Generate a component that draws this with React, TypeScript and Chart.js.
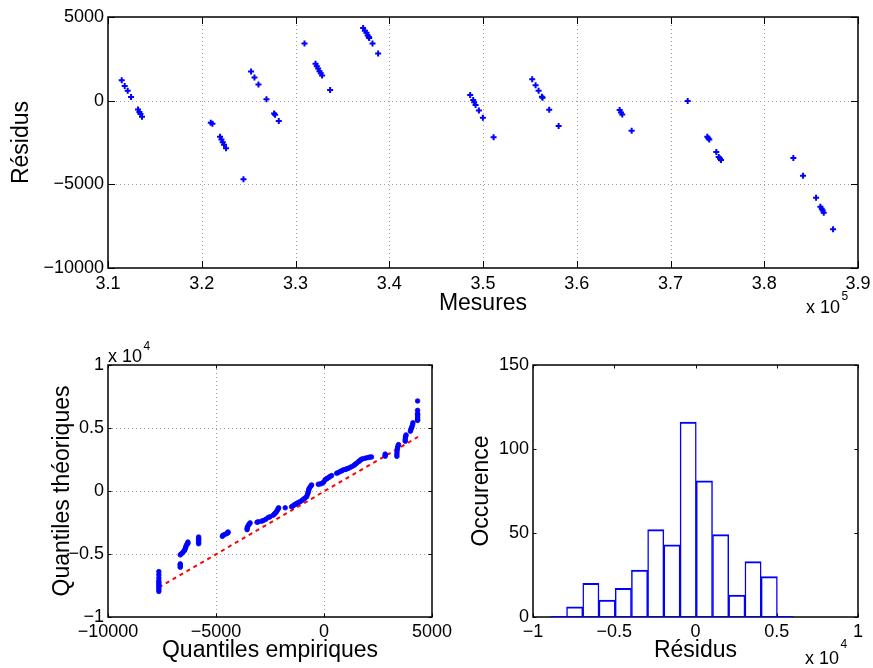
import React, { useEffect, useRef } from 'react';
import { Chart, registerables } from 'chart.js';
Chart.register(...registerables);

const FONT = "'Liberation Sans', Arial, Helvetica, sans-serif";
const BLUE = '#0000ff';
const RED = '#ff0000';

// ---------- Top plot: residuals vs measures ----------
const mesures = [
  311462, 311782, 312102, 312458, 313200, 313350, 313458, 313628,
  320960, 321140, 321953, 322102, 322241, 322380, 322593, 324450,
  325261, 325624, 326050, 326904, 327716, 327822, 328217,
  330960, 332134, 332272, 332411, 332560, 332699, 332838, 333692,
  337214, 337395, 337577, 337700, 337822, 337860, 338217, 338814,
  348633, 348953, 349060, 349209, 349561, 349988, 351130,
  355249, 355612, 355932, 356284, 356359, 357063, 358067,
  364577, 364716, 364854, 365857,
  371834,
  373925, 374032, 374139, 374886, 375142, 375281, 375388,
  383104, 384139, 385526, 385985, 386134, 386241, 386347, 387341,
];
const residus = [
  1218, 882, 600, 222, -522, -678, -798, -960,
  -1320, -1380, -2161, -2323, -2479, -2641, -2839, -4700,
  1741, 1380, 960, 78, -762, -840, -1218,
  3421, 2203, 2059, 1921, 1759, 1639, 1500, 642,
  4339, 4183, 4063, 3900, 3800, 3739, 3421, 2821,
  342, 42, -102, -258, -582, -1020, -2179,
  1278, 918, 600, 240, 180, -540, -1518,
  -558, -702, -822, -1801,
  -18,
  -2161, -2239, -2323, -3061, -3361, -3463, -3541,
  -3421, -4483, -5804, -6344, -6464, -6560, -6704, -7683,
];
const topXTicks = [310000, 320000, 330000, 340000, 350000, 360000, 370000, 380000, 390000];
const topXTickLabels = ['3.1', '3.2', '3.3', '3.4', '3.5', '3.6', '3.7', '3.8', '3.9'];
const topYTicks = [-10000, -5000, 0, 5000];
const topYTickLabels = ['\u221210000', '\u22125000', '0', '5000'];

// ---------- QQ plot ----------
const qqEmpiriques = [
  -7646, -7646, -7646, -7646, -7646, -7646, -7646, -7646, -7646, -7646,
  -6655, -6655, -6655, -6655,
  -6655, -6600, -6540, -6480, -6454, -6420, -6400, -6377, -6340, -6300, -6300,
  -5804, -5804, -5804, -5804, -5804, -5804,
  -4705, -4680, -4600, -4500, -4442, -4442,
  -3560, -3560, -3540, -3500, -3460, -3420,
  -3100, -3049, -2900, -2817, -2700, -2585, -2500,
  -2353, -2300, -2250, -2200, -2160, -2120, -2100,
  -1795,
  -1501, -1450, -1390, -1330, -1269, -1190, -1114, -1030, -950, -880, -805, -770, -740, -727, -710, -690, -650, -600, -573,
  -263, -180, -100, -20, 46, 100, 150, 220, 278, 350,
  588, 650, 750, 820, 897, 1000, 1050, 1130, 1207, 1300, 1400, 1450, 1517, 1600, 1650, 1700, 1749, 1850, 1950, 2050, 2136, 2200,
  2832, 2832, 2832,
  3374, 3374, 3380, 3390, 3400, 3420, 3450,
  3761, 3761, 3770, 3780, 3800,
  4000, 4024, 4050, 4070, 4100, 4117,
  4333, 4333, 4333, 4333, 4333, 4333, 4333, 4333,
];
const qqTheoriques = [
  -7973, -7800, -7650, -7500, -7387, -7250, -7120, -6900, -6650, -6400,
  -6053, -5950, -5850, -5787,
  -5067, -4980, -4880, -4760, -4700, -4560, -4450, -4320, -4230, -4150, -4053,
  -4187, -4080, -3960, -3850, -3750, -3653,
  -3600, -3520, -3450, -3380, -3307, -3250,
  -3067, -2950, -2850, -2720, -2620, -2533,
  -2480, -2453, -2400, -2347, -2250, -2107, -2050,
  -1920, -1830, -1750, -1640, -1520, -1420, -1333,
  -1333,
  -1253, -1200, -1120, -1060, -987, -920, -853, -760, -650, -560, -453, -300, -150, -53, 60, 180, 300, 420, 480,
  533, 560, 600, 700, 880, 950, 1000, 1080, 1147, 1220,
  1413, 1450, 1550, 1600, 1680, 1720, 1750, 1800, 1867, 1950, 2050, 2130, 2213, 2330, 2400, 2470, 2533, 2580, 2620, 2660, 2693, 2700,
  2760, 2850, 2930,
  2750, 2900, 3050, 3250, 3400, 3550, 3680,
  3950, 4080, 4250, 4347, 4450,
  4750, 4880, 5000, 5100, 5250, 5413,
  5600, 5680, 5800, 5950, 6050, 6150, 6400, 7147,
];
const qqLineX = [-7646, 4350];
const qqLineY = [-7653, 4293];
const qqXTicks = [-10000, -5000, 0, 5000];
const qqXTickLabels = ['\u221210000', '\u22125000', '0', '5000'];
const qqYTicks = [-10000, -5000, 0, 5000, 10000];
const qqYTickLabels = ['\u22121', '\u22120.5', '0', '0.5', '1'];

// ---------- Histogram ----------
const histCenters = [-8434, -7436, -6438, -5440, -4442, -3444, -2446, -1448, -450, 548, 1546, 2544, 3542, 4540, 5538];
const histCounts = [0, 6, 20, 10, 17, 28, 52, 43, 116, 81, 49, 13, 33, 24, 0];
const histRange = [-8933, 6037];
const histXTicks = [-10000, -5000, 0, 5000, 10000];
const histXTickLabels = ['\u22121', '\u22120.5', '0', '0.5', '1'];
const histYTicks = [0, 50, 100, 150];
const histYTickLabels = ['0', '50', '100', '150'];

type ScaleSpec = {
  axis: 'x' | 'y';
  min: number;
  max: number;
  ticks: number[];
  labels: string[];
  title: string;
  titlePad: number;
  tickPad: number;
  fit: number;
};

function makeScale(s: ScaleSpec): any {
  return {
    type: 'linear',
    position: s.axis === 'x' ? 'bottom' : 'left',
    min: s.min,
    max: s.max,
    offset: false,
    grid: { display: false, drawTicks: false, offset: false },
    border: { display: false },
    afterBuildTicks: (sc: any) => {
      sc.ticks = s.ticks.map((v) => ({ value: v }));
    },
    afterFit: (sc: any) => {
      if (s.axis === 'x') {
        sc.height = s.fit;
        sc.paddingLeft = 0;
        sc.paddingRight = 0;
      } else {
        sc.width = s.fit;
        sc.paddingTop = 0;
        sc.paddingBottom = 0;
      }
    },
    ticks: {
      autoSkip: false,
      maxRotation: 0,
      minRotation: 0,
      padding: s.tickPad,
      color: '#000',
      font: { family: FONT, size: 18 },
      callback: (v: number) => {
        const i = s.ticks.indexOf(v);
        return i >= 0 ? s.labels[i] : '';
      },
    },
    title: {
      display: true,
      text: s.title,
      color: '#000',
      font: { family: FONT, size: 23 },
      padding: s.axis === 'x' ? { top: 0, bottom: s.titlePad } : { top: s.titlePad, bottom: 0 },
    },
  };
}

const matlabAxes = {
  id: 'matlabAxes',
  beforeDatasetsDraw(chart: any, _args: any, opts: any) {
    const { ctx, chartArea: a } = chart;
    const xs = chart.scales.x;
    const ys = chart.scales.y;
    ctx.save();
    if (opts.grid) {
      ctx.strokeStyle = '#a0a0a0';
      ctx.lineWidth = 1;
      ctx.setLineDash([1, 3]);
      xs.ticks.forEach((t: any) => {
        const p = Math.round(xs.getPixelForValue(t.value)) + 0.5;
        if (p < a.left + 2 || p > a.right - 2) return;
        ctx.beginPath();
        ctx.moveTo(p, a.top);
        ctx.lineTo(p, a.bottom);
        ctx.stroke();
      });
      ys.ticks.forEach((t: any) => {
        const p = Math.round(ys.getPixelForValue(t.value)) + 0.5;
        if (p < a.top + 2 || p > a.bottom - 2) return;
        ctx.beginPath();
        ctx.moveTo(a.left, p);
        ctx.lineTo(a.right, p);
        ctx.stroke();
      });
    }
    ctx.setLineDash([]);
    ctx.strokeStyle = '#000';
    ctx.lineWidth = 1;
    const L = opts.tickLen;
    xs.ticks.forEach((t: any) => {
      const p = Math.round(xs.getPixelForValue(t.value)) + 0.5;
      ctx.beginPath();
      ctx.moveTo(p, a.bottom);
      ctx.lineTo(p, a.bottom - L);
      ctx.moveTo(p, a.top);
      ctx.lineTo(p, a.top + L);
      ctx.stroke();
    });
    ys.ticks.forEach((t: any) => {
      const p = Math.round(ys.getPixelForValue(t.value)) + 0.5;
      ctx.beginPath();
      ctx.moveTo(a.left, p);
      ctx.lineTo(a.left + L, p);
      ctx.moveTo(a.right, p);
      ctx.lineTo(a.right - L, p);
      ctx.stroke();
    });
    ctx.lineWidth = 1.5;
    ctx.strokeRect(Math.round(a.left), Math.round(a.top), Math.round(a.right - a.left), Math.round(a.bottom - a.top));
    ctx.restore();
  },
  afterDraw(chart: any, _args: any, opts: any) {
    const e = opts.exp;
    if (!e) return;
    const { ctx } = chart;
    ctx.save();
    ctx.fillStyle = '#000';
    ctx.textBaseline = 'alphabetic';
    ctx.textAlign = 'left';
    ctx.font = `18px ${FONT}`;
    ctx.fillText('x 10', e.x, e.base);
    const w = ctx.measureText('x 10').width;
    ctx.font = `12px ${FONT}`;
    ctx.fillText(e.sup, e.x + w + 1.5, e.supBase);
    ctx.restore();
  },
};

const commonOptions = (padding: any, pluginOpts: any) => ({
  responsive: false,
  animation: false as const,
  devicePixelRatio: 1,
  events: [] as any[],
  layout: { padding },
  plugins: {
    legend: { display: false },
    tooltip: { enabled: false },
    matlabAxes: pluginOpts,
  },
});

export default function App() {
  const r1 = useRef<HTMLCanvasElement>(null);
  const r2 = useRef<HTMLCanvasElement>(null);
  const r3 = useRef<HTMLCanvasElement>(null);

  useEffect(() => {
    const c1 = new Chart(r1.current!, {
      type: 'scatter',
      data: {
        datasets: [
          {
            data: mesures.map((x, i) => ({ x, y: residus[i] })),
            pointStyle: 'cross',
            pointRadius: 3,
            pointHoverRadius: 3,
            pointBorderWidth: 2,
            pointBorderColor: BLUE,
            pointBackgroundColor: BLUE,
            borderColor: BLUE,
            backgroundColor: BLUE,
          } as any,
        ],
      },
      options: {
        ...commonOptions({ left: 0, top: 17, right: 15, bottom: 0 }, {
          grid: true,
          tickLen: 7,
          exp: { x: 806, base: 313, sup: '5', supBase: 300 },
        }),
        scales: {
          x: makeScale({ axis: 'x', min: 310000, max: 390000, ticks: topXTicks, labels: topXTickLabels, title: 'Mesures', titlePad: 13, tickPad: 5, fit: 62 }),
          y: makeScale({ axis: 'y', min: -10000, max: 5000, ticks: topYTicks, labels: topYTickLabels, title: 'R\u00e9sidus', titlePad: 8, tickPad: 4, fit: 108 }),
        },
      } as any,
      plugins: [matlabAxes as any],
    });

    const c2 = new Chart(r2.current!, {
      type: 'scatter',
      data: {
        datasets: [
          {
            data: qqEmpiriques.map((x, i) => ({ x, y: qqTheoriques[i] })),
            pointStyle: 'circle',
            pointRadius: 2.3,
            pointHoverRadius: 2.3,
            pointBorderWidth: 0.8,
            pointBorderColor: BLUE,
            pointBackgroundColor: BLUE,
            order: 0,
          } as any,
          {
            data: qqLineX.map((x, i) => ({ x, y: qqLineY[i] })),
            showLine: true,
            borderColor: RED,
            borderWidth: 2,
            borderDash: [4, 4],
            pointRadius: 0,
            order: 1,
          } as any,
        ],
      },
      options: {
        ...commonOptions({ left: 0, top: 35, right: 28, bottom: 0 }, {
          grid: true,
          tickLen: 3.5,
          exp: { x: 108, base: 32, sup: '4', supBase: 20 },
        }),
        scales: {
          x: makeScale({ axis: 'x', min: -10000, max: 5000, ticks: qqXTicks, labels: qqXTickLabels, title: 'Quantiles empiriques', titlePad: 4, tickPad: 4, fit: 51 }),
          y: makeScale({ axis: 'y', min: -10000, max: 10000, ticks: qqYTicks, labels: qqYTickLabels, title: 'Quantiles th\u00e9oriques', titlePad: 49, tickPad: 4, fit: 108 }),
        },
      } as any,
      plugins: [matlabAxes as any],
    });

    const c3 = new Chart(r3.current!, {
      type: 'bar',
      data: {
        datasets: [
          {
            type: 'bar',
            data: histCenters.map((x, i) => ({ x, y: histCounts[i] })),
            backgroundColor: '#ffffff',
            borderColor: BLUE,
            borderWidth: { top: 2, left: 1.5, right: 1.5, bottom: 0 },
            borderSkipped: false,
            barPercentage: 1,
            categoryPercentage: 1,
            order: 1,
          } as any,
          {
            type: 'line',
            data: histRange.map((x) => ({ x, y: 0 })),
            borderColor: BLUE,
            borderWidth: 2,
            pointRadius: 0,
            order: 0,
          } as any,
        ],
      },
      options: {
        ...commonOptions({ left: 0, top: 35, right: 15, bottom: 0 }, {
          grid: false,
          tickLen: 3.5,
          exp: { x: 345, base: 334, sup: '4', supBase: 318 },
        }),
        scales: {
          x: makeScale({ axis: 'x', min: -10000, max: 10000, ticks: histXTicks, labels: histXTickLabels, title: 'R\u00e9sidus', titlePad: 4, tickPad: 4, fit: 51 }),
          y: makeScale({ axis: 'y', min: 0, max: 150, ticks: histYTicks, labels: histYTickLabels, title: 'Occurence', titlePad: 8, tickPad: 4, fit: 73 }),
        },
      } as any,
      plugins: [matlabAxes as any],
    });

    return () => {
      c1.destroy();
      c2.destroy();
      c3.destroy();
    };
  }, []);

  return (
    <div style={{ position: 'fixed', left: 0, top: 0, width: 873, height: 668, background: '#ffffff' }}>
      <canvas ref={r1} width={873} height={330} style={{ position: 'absolute', left: 0, top: 0 }} />
      <canvas ref={r2} width={460} height={338} style={{ position: 'absolute', left: 0, top: 330 }} />
      <canvas ref={r3} width={413} height={338} style={{ position: 'absolute', left: 460, top: 330 }} />
    </div>
  );
}
